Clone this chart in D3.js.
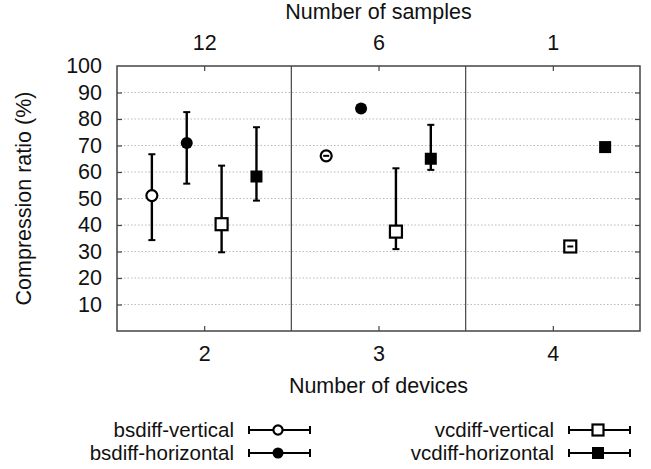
<!DOCTYPE html>
<html>
<head>
<meta charset="utf-8">
<script src="https://cdn.jsdelivr.net/npm/d3@7"></script>
<style>
  body { margin: 0; background: #fff; }
  text { font-family: "Liberation Sans", Arial, sans-serif; fill: #111; }
  .grid line { stroke: #bbb; stroke-dasharray: 1.5,2; }
  .frame { fill: none; stroke: #444; stroke-width: 1.5; }
</style>
</head>
<body>
<div id="chart"></div>
<script>
// groups on the x axis
var devices = [2, 3, 4];
var samples = ["12", "6", "1"];
var yTicks = [10, 20, 30, 40, 50, 60, 70, 80, 90, 100];

// series: value, low, high per device group (null = no data)
var seriesNames = ["bsdiff-vertical", "bsdiff-horizontal", "vcdiff-vertical", "vcdiff-horizontal"];
var bsdiffVertical   = [[51.1, 34.3, 66.7], [66.1, 65.6, 66.6], null];
var bsdiffHorizontal = [[70.9, 55.6, 82.6], [84.0, 84.0, 84.0], null];
var vcdiffVertical   = [[40.3, 29.7, 62.4], [37.5, 30.9, 61.4], [31.9, 31.4, 32.4]];
var vcdiffHorizontal = [[58.3, 49.2, 76.9], [65.0, 60.8, 77.8], [69.4, 69.4, 69.4]];
var offsets = [-0.3, -0.1, 0.1, 0.3];

function ScatterChart(container){
    this.c = {};
    this.c.margin = { top: 66, right: 11, bottom: 138, left: 117 };
    this.c.width = 651;
    this.c.height = 469;
    this.c.container = container;
    this.init();
}

ScatterChart.prototype = {
    constructor: ScatterChart,

    // 0 open circle, 1 filled circle, 2 open square, 3 filled square
    // sz = [open r, filled r, open side, filled side]
    marker: function(g, i, sz){
        if (i < 2){
            g.append("circle")
                .attr("r", sz[i])
                .attr("fill", i == 0 ? "#fff" : "#000")
                .attr("stroke", "#000")
                .attr("stroke-width", i == 0 ? 2.2 : 0);
        } else {
            var s = sz[i];
            g.append("rect")
                .attr("x", -s / 2).attr("y", -s / 2)
                .attr("width", s).attr("height", s)
                .attr("fill", i == 2 ? "#fff" : "#000")
                .attr("stroke", "#000")
                .attr("stroke-width", i == 2 ? 2.2 : 0);
        }
    },

    init: function(){
        var self = this, c = self.c;
        var w = c.width - c.margin.left - c.margin.right,
            h = c.height - c.margin.top - c.margin.bottom;

        var svg = d3.select(c.container).append("svg")
            .attr("width", c.width).attr("height", c.height);
        var g = svg.append("g")
            .attr("transform", "translate(" + c.margin.left + "," + c.margin.top + ")");

        var x = d3.scaleLinear().domain([1.5, 4.5]).range([0, w]);
        var y = d3.scaleLinear().domain([0, 100]).range([h, 0]);

        // dotted grid
        g.append("g").attr("class", "grid")
            .selectAll("line")
            .data(yTicks.filter(function(d){ return d < 100; }))
            .enter().append("line")
            .attr("x1", 0).attr("x2", w)
            .attr("y1", function(d){ return y(d); })
            .attr("y2", function(d){ return y(d); });

        // group dividers
        g.selectAll(".divider")
            .data([2.5, 3.5])
            .enter().append("line")
            .attr("class", "divider")
            .attr("x1", function(d){ return x(d); })
            .attr("x2", function(d){ return x(d); })
            .attr("y1", 0).attr("y2", h)
            .attr("stroke", "#444").attr("stroke-width", 1.2);

        // axes
        var fs = "21.5px";
        var left = g.append("g")
            .call(d3.axisLeft(y).tickValues(yTicks).tickSize(-5).tickPadding(15));
        var right = g.append("g").attr("transform", "translate(" + w + ",0)")
            .call(d3.axisRight(y).tickValues(yTicks).tickSize(-5).tickFormat(""));
        var bottom = g.append("g").attr("transform", "translate(0," + h + ")")
            .call(d3.axisBottom(x).tickValues(devices).tickSize(-5).tickPadding(15)
                .tickFormat(d3.format("d")));
        var top = g.append("g")
            .call(d3.axisTop(x).tickValues(devices).tickSize(-5).tickPadding(16)
                .tickFormat(function(d, i){ return samples[i]; }));
        [left, right, bottom, top].forEach(function(a){
            a.select(".domain").remove();
            a.selectAll("line").attr("stroke", "#444").attr("stroke-width", 1.2);
            a.selectAll("text").style("font-size", fs).attr("fill", "#111");
        });
        left.selectAll(".tick").filter(function(d){ return d == 100; }).select("line").remove();
        right.selectAll(".tick").filter(function(d){ return d == 100; }).select("line").remove();

        g.append("rect").attr("class", "frame")
            .attr("x", 0).attr("y", 0).attr("width", w).attr("height", h);

        // axis titles
        svg.append("text")
            .attr("x", c.margin.left + w / 2).attr("y", 393)
            .attr("text-anchor", "middle").style("font-size", fs)
            .text("Number of devices");
        svg.append("text")
            .attr("x", c.margin.left + w / 2).attr("y", 19)
            .attr("text-anchor", "middle").style("font-size", fs)
            .text("Number of samples");
        svg.append("text")
            .attr("transform", "translate(31," + (c.margin.top + h / 2) + ") rotate(-90)")
            .attr("text-anchor", "middle").style("font-size", fs)
            .text("Compression ratio (%)");

        // points with error bars
        var series = [bsdiffVertical, bsdiffHorizontal, vcdiffVertical, vcdiffHorizontal];
        series.forEach(function(s, si){
            s.forEach(function(d, di){
                if (d == null) return;
                var px = x(devices[di] + offsets[si]);
                var pg = g.append("g");
                pg.append("line")
                    .attr("x1", px).attr("x2", px)
                    .attr("y1", y(d[1])).attr("y2", y(d[2]))
                    .attr("stroke", "#000").attr("stroke-width", 2.4);
                [d[1], d[2]].forEach(function(v){
                    pg.append("line")
                        .attr("x1", px - 3.5).attr("x2", px + 3.5)
                        .attr("y1", y(v)).attr("y2", y(v))
                        .attr("stroke", "#000").attr("stroke-width", 2);
                });
                var m = pg.append("g").attr("transform", "translate(" + px + "," + y(d[0]) + ")");
                self.marker(m, si, [5.5, 6, 12, 12]);
                // tiny error bar visible inside open markers
                if (si == 0 || si == 2){
                    m.append("line")
                        .attr("x1", -3).attr("x2", 3)
                        .attr("y1", 0).attr("y2", 0)
                        .attr("stroke", "#000").attr("stroke-width", d[2] - d[1] < 3 ? 2 : 0);
                }
            });
        });

        // legend
        var legendPos = [[234, 430], [234, 453], [554, 430], [554, 453]];
        seriesNames.forEach(function(name, i){
            var lx = legendPos[i][0], ly = legendPos[i][1];
            var lg = svg.append("g").attr("transform", "translate(" + lx + "," + ly + ")");
            lg.append("text").attr("x", 0).attr("y", 7)
                .attr("text-anchor", "end").style("font-size", "20.5px").text(name);
            lg.append("line").attr("x1", 15).attr("x2", 76).attr("y1", 0).attr("y2", 0)
                .attr("stroke", "#000").attr("stroke-width", 2.2);
            [15, 76].forEach(function(cx){
                lg.append("line").attr("x1", cx).attr("x2", cx).attr("y1", -4).attr("y2", 4)
                    .attr("stroke", "#000").attr("stroke-width", 2);
            });
            var m = lg.append("g").attr("transform", "translate(44,0)");
            self.marker(m, i, [4.6, 5.5, 11, 12]);
        });
    }
};

new ScatterChart("#chart");
</script>
</body>
</html>
